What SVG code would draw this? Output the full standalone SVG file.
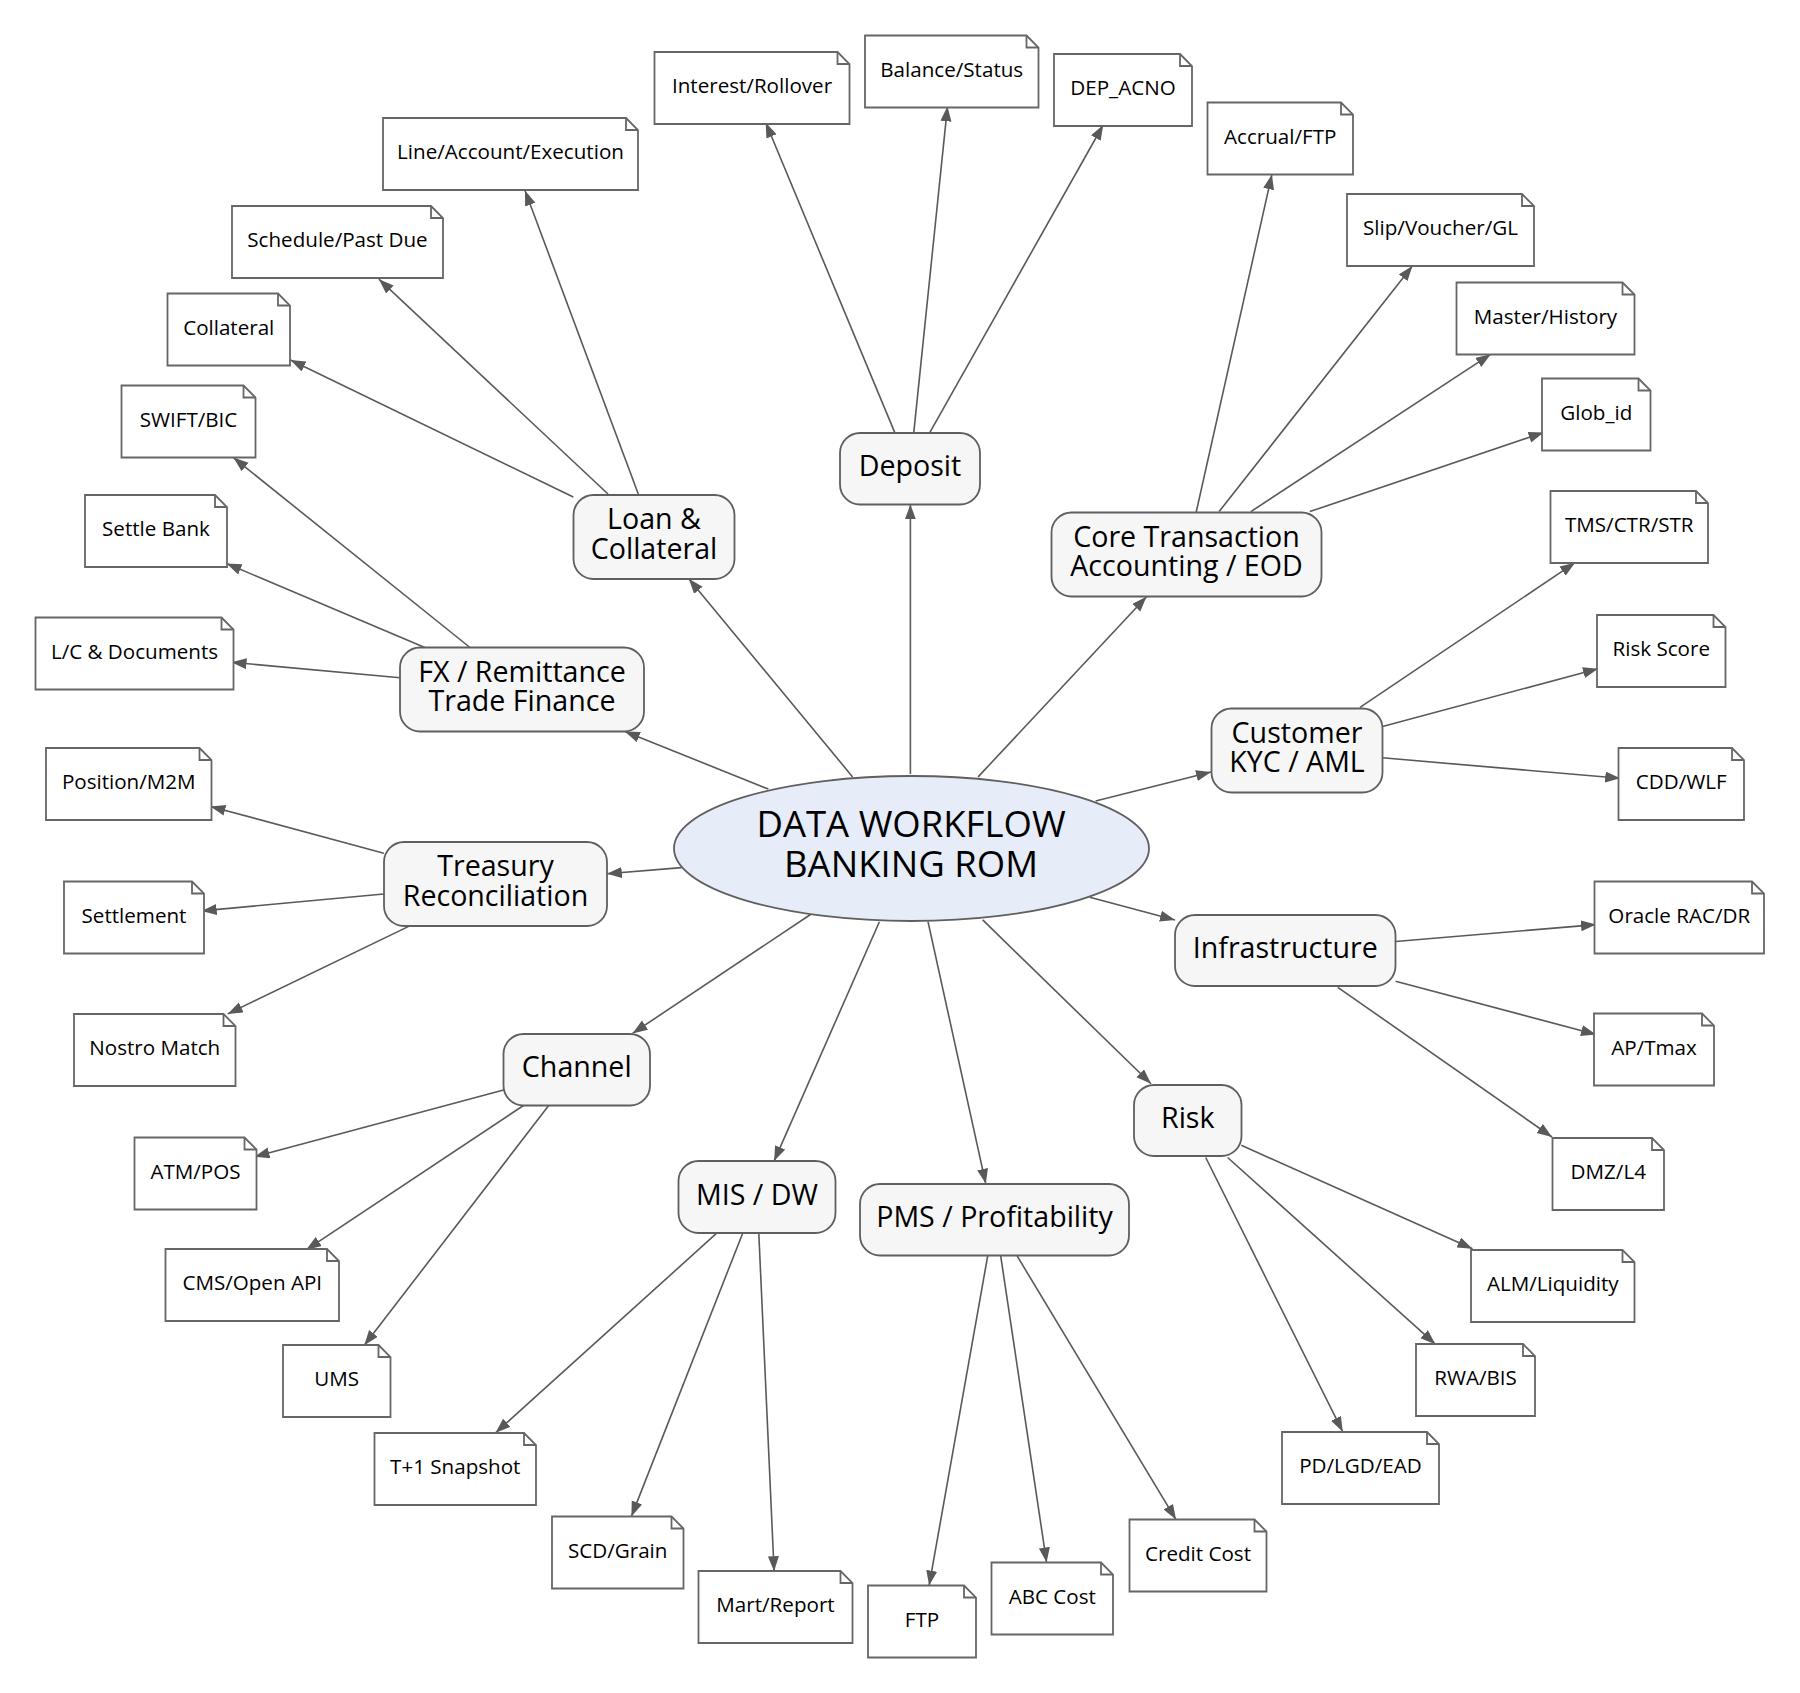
<svg xmlns="http://www.w3.org/2000/svg" width="1800" height="1693" viewBox="0 0 1800 1693">
<defs>
<marker id="ah" markerUnits="userSpaceOnUse" markerWidth="16" markerHeight="12" refX="15" refY="5.5" orient="auto">
<path d="M0,0 L15,5.5 L0,11 Z" fill="#595959"/>
</marker>
<style>
.e{stroke:#595959;stroke-width:1.6;fill:none;marker-end:url(#ah)}
.n rect{fill:#f6f6f6;stroke:#5f5f5f;stroke-width:1.8}
.n text{font-family:"Open Sans","Noto Sans",sans-serif;font-size:28.6px;fill:#000;text-anchor:middle}
.t path{fill:#fff;stroke:#666;stroke-width:1.8}
.t path.f{fill:none}
.t text{font-family:"Open Sans","Noto Sans",sans-serif;font-size:20.6px;fill:#000;text-anchor:middle}
.c ellipse{fill:#e6ecf8;stroke:#5f5f5f;stroke-width:1.8}
.c text{font-family:"Open Sans","Noto Sans",sans-serif;font-size:36.5px;fill:#000;text-anchor:middle}
</style>
</defs>
<rect width="1800" height="1693" fill="#fff"/>
<g id="connectors">
<line class="e" x1="852.6" y1="776.9" x2="688.8" y2="578.7"/>
<line class="e" x1="910.4" y1="774" x2="910.4" y2="504.4"/>
<line class="e" x1="978.1" y1="776.9" x2="1146.5" y2="596.7"/>
<line class="e" x1="768.4" y1="789.1" x2="624.9" y2="731.5"/>
<line class="e" x1="681.5" y1="867.6" x2="606.9" y2="873.8"/>
<line class="e" x1="1095.6" y1="801" x2="1211" y2="772"/>
<line class="e" x1="1089.8" y1="897.2" x2="1175" y2="920"/>
<line class="e" x1="810.5" y1="914.5" x2="632.5" y2="1033.4"/>
<line class="e" x1="879.4" y1="921.7" x2="774.1" y2="1161.1"/>
<line class="e" x1="928" y1="921.7" x2="985.8" y2="1183.8"/>
<line class="e" x1="982.7" y1="919.9" x2="1151" y2="1083.8"/>
<line class="e" x1="894.7" y1="432.4" x2="765.7" y2="122.5"/>
<line class="e" x1="913.8" y1="432.4" x2="947.5" y2="106.3"/>
<line class="e" x1="929.9" y1="432.4" x2="1103.2" y2="125"/>
<line class="e" x1="638.3" y1="494" x2="525" y2="190.5"/>
<line class="e" x1="608" y1="494" x2="378.9" y2="279.2"/>
<line class="e" x1="573.3" y1="497" x2="290.5" y2="360"/>
<line class="e" x1="1196" y1="513" x2="1271.9" y2="174.4"/>
<line class="e" x1="1219.1" y1="511.6" x2="1412.4" y2="265.9"/>
<line class="e" x1="1250.9" y1="511.6" x2="1490.8" y2="354.2"/>
<line class="e" x1="1309.8" y1="511.6" x2="1543.6" y2="432.4"/>
<line class="e" x1="424.8" y1="647.5" x2="226.5" y2="563.5"/>
<line class="e" x1="470" y1="647.5" x2="233.4" y2="457.6"/>
<line class="e" x1="400" y1="677.8" x2="231.5" y2="662.3"/>
<line class="e" x1="383.8" y1="853.2" x2="210.5" y2="806.4"/>
<line class="e" x1="383.8" y1="894" x2="201.7" y2="910.9"/>
<line class="e" x1="408.7" y1="926.4" x2="227.7" y2="1013.9"/>
<line class="e" x1="1360" y1="707.3" x2="1575" y2="562.7"/>
<line class="e" x1="1382.5" y1="726.4" x2="1598" y2="668.8"/>
<line class="e" x1="1382.5" y1="757.8" x2="1620.2" y2="778.3"/>
<line class="e" x1="1395.6" y1="941.5" x2="1596" y2="924.6"/>
<line class="e" x1="1395.6" y1="981.2" x2="1596" y2="1034.5"/>
<line class="e" x1="1337.8" y1="987.3" x2="1552" y2="1137"/>
<line class="e" x1="503.6" y1="1090" x2="254.5" y2="1156.8"/>
<line class="e" x1="523.5" y1="1105.5" x2="306.2" y2="1249.8"/>
<line class="e" x1="548.7" y1="1105.5" x2="364.3" y2="1345.3"/>
<line class="e" x1="716.7" y1="1233.2" x2="495.6" y2="1432.8"/>
<line class="e" x1="742.7" y1="1233.2" x2="631.4" y2="1516.4"/>
<line class="e" x1="758.8" y1="1233.2" x2="774.1" y2="1571.2"/>
<line class="e" x1="987.7" y1="1255.9" x2="929.1" y2="1585.6"/>
<line class="e" x1="1000.7" y1="1255.9" x2="1046.6" y2="1562.5"/>
<line class="e" x1="1017.1" y1="1255.9" x2="1176" y2="1519.6"/>
<line class="e" x1="1241.3" y1="1145.3" x2="1472.5" y2="1248.7"/>
<line class="e" x1="1227.6" y1="1157.5" x2="1435.3" y2="1344.2"/>
<line class="e" x1="1205.7" y1="1157.5" x2="1342.7" y2="1431.7"/>
</g>
<g id="center" class="c">
<ellipse cx="911.5" cy="848.5" rx="237.5" ry="72.5"/>
<text x="911" y="837">DATA WORKFLOW</text>
<text x="911" y="876.7">BANKING ROM</text>
</g>
<g id="loan" class="n"><rect x="573.5" y="495" width="161" height="84" rx="20"/><text x="654" y="529">Loan &amp;</text><text x="654" y="558.7">Collateral</text></g>
<g id="deposit" class="n"><rect x="840" y="433" width="140" height="71.5" rx="20"/><text x="910" y="476.3">Deposit</text></g>
<g id="core" class="n"><rect x="1051.5" y="512.5" width="270" height="84" rx="20"/><text x="1186.5" y="546.5">Core Transaction</text><text x="1186.5" y="576.2">Accounting / EOD</text></g>
<g id="fx" class="n"><rect x="400" y="647.5" width="244" height="84" rx="20"/><text x="522" y="681.5">FX / Remittance</text><text x="522" y="711.2">Trade Finance</text></g>
<g id="treasury" class="n"><rect x="384" y="842" width="223" height="84" rx="20"/><text x="495.5" y="876">Treasury</text><text x="495.5" y="905.7">Reconciliation</text></g>
<g id="customer" class="n"><rect x="1211.5" y="708.5" width="171" height="84" rx="20"/><text x="1297" y="742.5">Customer</text><text x="1297" y="772.2">KYC / AML</text></g>
<g id="infra" class="n"><rect x="1175" y="915" width="220.5" height="71" rx="20"/><text x="1285.25" y="958">Infrastructure</text></g>
<g id="channel" class="n"><rect x="503.5" y="1034" width="146.5" height="71.5" rx="20"/><text x="576.75" y="1077.25">Channel</text></g>
<g id="mis" class="n"><rect x="678.5" y="1161" width="157" height="72" rx="20"/><text x="757" y="1204.5">MIS / DW</text></g>
<g id="pms" class="n"><rect x="860" y="1184" width="269" height="71.5" rx="20"/><text x="994.5" y="1227.25">PMS / Profitability</text></g>
<g id="risk" class="n"><rect x="1134" y="1085" width="107.5" height="71" rx="20"/><text x="1187.75" y="1128">Risk</text></g>
<g id="n-line" class="t"><path d="M383,118 H626 L638,130 V190 H383 Z"/><path class="f" d="M626,118 V130 H638"/><text x="510.5" y="159">Line/Account/Execution</text></g>
<g id="n-schedule" class="t"><path d="M232,206 H431 L443,218 V278 H232 Z"/><path class="f" d="M431,206 V218 H443"/><text x="337.5" y="247">Schedule/Past Due</text></g>
<g id="n-collateral" class="t"><path d="M167.5,293.5 H278 L290,305.5 V365.5 H167.5 Z"/><path class="f" d="M278,293.5 V305.5 H290"/><text x="228.75" y="334.5">Collateral</text></g>
<g id="n-swift" class="t"><path d="M121.5,385.5 H243.5 L255.5,397.5 V457.5 H121.5 Z"/><path class="f" d="M243.5,385.5 V397.5 H255.5"/><text x="188.5" y="426.5">SWIFT/BIC</text></g>
<g id="n-settlebank" class="t"><path d="M85,495 H215 L227,507 V567 H85 Z"/><path class="f" d="M215,495 V507 H227"/><text x="156" y="536">Settle Bank</text></g>
<g id="n-lc" class="t"><path d="M35.5,617.5 H221.5 L233.5,629.5 V689.5 H35.5 Z"/><path class="f" d="M221.5,617.5 V629.5 H233.5"/><text x="134.5" y="658.5">L/C &amp; Documents</text></g>
<g id="n-position" class="t"><path d="M46,748 H199.5 L211.5,760 V820 H46 Z"/><path class="f" d="M199.5,748 V760 H211.5"/><text x="128.75" y="789">Position/M2M</text></g>
<g id="n-settlement" class="t"><path d="M64,881.5 H192 L204,893.5 V953.5 H64 Z"/><path class="f" d="M192,881.5 V893.5 H204"/><text x="134" y="922.5">Settlement</text></g>
<g id="n-nostro" class="t"><path d="M74,1014 H223.5 L235.5,1026 V1086 H74 Z"/><path class="f" d="M223.5,1014 V1026 H235.5"/><text x="154.75" y="1055">Nostro Match</text></g>
<g id="n-atm" class="t"><path d="M134.5,1137.5 H244.5 L256.5,1149.5 V1209.5 H134.5 Z"/><path class="f" d="M244.5,1137.5 V1149.5 H256.5"/><text x="195.5" y="1178.5">ATM/POS</text></g>
<g id="n-cms" class="t"><path d="M165.5,1249 H327 L339,1261 V1321 H165.5 Z"/><path class="f" d="M327,1249 V1261 H339"/><text x="252.25" y="1290">CMS/Open API</text></g>
<g id="n-ums" class="t"><path d="M283,1345 H378.5 L390.5,1357 V1417 H283 Z"/><path class="f" d="M378.5,1345 V1357 H390.5"/><text x="336.75" y="1386">UMS</text></g>
<g id="n-t1" class="t"><path d="M374.5,1433 H524 L536,1445 V1505 H374.5 Z"/><path class="f" d="M524,1433 V1445 H536"/><text x="455.25" y="1474">T+1 Snapshot</text></g>
<g id="n-scd" class="t"><path d="M552,1516.5 H671.5 L683.5,1528.5 V1588.5 H552 Z"/><path class="f" d="M671.5,1516.5 V1528.5 H683.5"/><text x="617.75" y="1557.5">SCD/Grain</text></g>
<g id="n-mart" class="t"><path d="M698.5,1571 H840.5 L852.5,1583 V1643 H698.5 Z"/><path class="f" d="M840.5,1571 V1583 H852.5"/><text x="775.5" y="1612">Mart/Report</text></g>
<g id="n-ftp" class="t"><path d="M868,1585.5 H964 L976,1597.5 V1657.5 H868 Z"/><path class="f" d="M964,1585.5 V1597.5 H976"/><text x="922" y="1626.5">FTP</text></g>
<g id="n-abc" class="t"><path d="M991.5,1562.5 H1101 L1113,1574.5 V1634.5 H991.5 Z"/><path class="f" d="M1101,1562.5 V1574.5 H1113"/><text x="1052.25" y="1603.5">ABC Cost</text></g>
<g id="n-credit" class="t"><path d="M1129.5,1519.5 H1254.5 L1266.5,1531.5 V1591.5 H1129.5 Z"/><path class="f" d="M1254.5,1519.5 V1531.5 H1266.5"/><text x="1198" y="1560.5">Credit Cost</text></g>
<g id="n-pd" class="t"><path d="M1282,1432 H1427 L1439,1444 V1504 H1282 Z"/><path class="f" d="M1427,1432 V1444 H1439"/><text x="1360.5" y="1473">PD/LGD/EAD</text></g>
<g id="n-rwa" class="t"><path d="M1416,1344 H1523 L1535,1356 V1416 H1416 Z"/><path class="f" d="M1523,1344 V1356 H1535"/><text x="1475.5" y="1385">RWA/BIS</text></g>
<g id="n-alm" class="t"><path d="M1471,1250 H1622.5 L1634.5,1262 V1322 H1471 Z"/><path class="f" d="M1622.5,1250 V1262 H1634.5"/><text x="1552.75" y="1291">ALM/Liquidity</text></g>
<g id="n-dmz" class="t"><path d="M1552.5,1138 H1652 L1664,1150 V1210 H1552.5 Z"/><path class="f" d="M1652,1138 V1150 H1664"/><text x="1608.25" y="1179">DMZ/L4</text></g>
<g id="n-ap" class="t"><path d="M1594,1013.5 H1702 L1714,1025.5 V1085.5 H1594 Z"/><path class="f" d="M1702,1013.5 V1025.5 H1714"/><text x="1654" y="1054.5">AP/Tmax</text></g>
<g id="n-oracle" class="t"><path d="M1594.5,881.5 H1752 L1764,893.5 V953.5 H1594.5 Z"/><path class="f" d="M1752,881.5 V893.5 H1764"/><text x="1679.25" y="922.5">Oracle RAC/DR</text></g>
<g id="n-cdd" class="t"><path d="M1618.5,748 H1732 L1744,760 V820 H1618.5 Z"/><path class="f" d="M1732,748 V760 H1744"/><text x="1681.25" y="789">CDD/WLF</text></g>
<g id="n-riskscore" class="t"><path d="M1597,615 H1713.5 L1725.5,627 V687 H1597 Z"/><path class="f" d="M1713.5,615 V627 H1725.5"/><text x="1661.25" y="656">Risk Score</text></g>
<g id="n-tms" class="t"><path d="M1550.5,491 H1696 L1708,503 V563 H1550.5 Z"/><path class="f" d="M1696,491 V503 H1708"/><text x="1629.25" y="532">TMS/CTR/STR</text></g>
<g id="n-glob" class="t"><path d="M1542,378.5 H1638.5 L1650.5,390.5 V450.5 H1542 Z"/><path class="f" d="M1638.5,378.5 V390.5 H1650.5"/><text x="1596.25" y="419.5">Glob_id</text></g>
<g id="n-master" class="t"><path d="M1456.5,282.5 H1622.5 L1634.5,294.5 V354.5 H1456.5 Z"/><path class="f" d="M1622.5,282.5 V294.5 H1634.5"/><text x="1545.5" y="323.5">Master/History</text></g>
<g id="n-slip" class="t"><path d="M1347,194 H1522 L1534,206 V266 H1347 Z"/><path class="f" d="M1522,194 V206 H1534"/><text x="1440.5" y="235">Slip/Voucher/GL</text></g>
<g id="n-accrual" class="t"><path d="M1207.5,102.5 H1341 L1353,114.5 V174.5 H1207.5 Z"/><path class="f" d="M1341,102.5 V114.5 H1353"/><text x="1280.25" y="143.5">Accrual/FTP</text></g>
<g id="n-depacno" class="t"><path d="M1054,54 H1180 L1192,66 V126 H1054 Z"/><path class="f" d="M1180,54 V66 H1192"/><text x="1123" y="95">DEP_ACNO</text></g>
<g id="n-balance" class="t"><path d="M865,35.5 H1026.5 L1038.5,47.5 V107.5 H865 Z"/><path class="f" d="M1026.5,35.5 V47.5 H1038.5"/><text x="951.75" y="76.5">Balance/Status</text></g>
<g id="n-interest" class="t"><path d="M654.5,52 H837.5 L849.5,64 V124 H654.5 Z"/><path class="f" d="M837.5,52 V64 H849.5"/><text x="752" y="93">Interest/Rollover</text></g>
</svg>
